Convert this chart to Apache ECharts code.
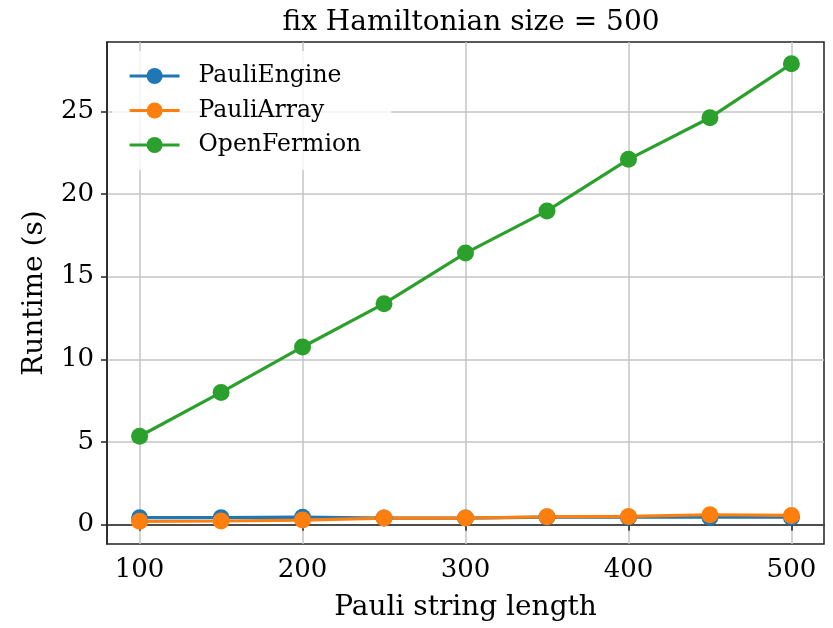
<!DOCTYPE html>
<html>
<head>
<meta charset="utf-8">
<script src="https://cdn.jsdelivr.net/npm/echarts@6/dist/echarts.min.js"></script>
<style>html,body{margin:0;padding:0;background:#fff}#c{width:833px;height:628px}</style>
</head>
<body>
<div id="c"></div>
<script>
const lengths = [100, 150, 200, 250, 300, 350, 400, 450, 500];
const pauliEngine = [0.42, 0.42, 0.45, 0.40, 0.40, 0.46, 0.45, 0.45, 0.45];
const pauliArray = [0.20, 0.22, 0.28, 0.40, 0.40, 0.48, 0.50, 0.60, 0.56];
const openFermion = [5.35, 8.0, 10.75, 13.37, 16.43, 18.98, 22.1, 24.62, 27.88];
const xTicks = [100, 200, 300, 400, 500];
const yTicks = [0, 5, 10, 15, 20, 25];

const font = 'DejaVu Serif';
const colors = ['#1f77b4', '#ff7f0e', '#2ca02c'];
function mk(name, vals, color) {
  return {
    name: name, type: 'line', data: lengths.map((x, i) => [x, vals[i]]),
    symbol: 'circle', symbolSize: 17, showSymbol: true,
    lineStyle: { color: color, width: 3.2 }, itemStyle: { color: color },
    emphasis: { disabled: true }, animation: false
  };
}
const chart = echarts.init(document.getElementById('c'));
chart.setOption({
  animation: false,
  title: { text: 'fix Hamiltonian size = 500', left: 466, textAlign: 'center', top: 4,
    textStyle: { fontFamily: font, fontSize: 28, fontWeight: 'normal', color: '#000' } },
  legend: {
    orient: 'vertical', left: 112, top: 51,
    padding: [12, 30, 12, 16], itemGap: 8.5, itemWidth: 50, itemHeight: 20,
    backgroundColor: 'rgba(255,255,255,0.8)',
    lineStyle: { width: 3.2 },
    textStyle: { fontFamily: font, fontSize: 23.5, color: '#000', lineHeight: 26, padding: [0, 0, 0, 14] },
    data: ['PauliEngine', 'PauliArray', 'OpenFermion']
  },
  grid: { left: 107, right: 9, top: 42, bottom: 84, show: true, borderColor: '#222', borderWidth: 1.5, backgroundColor: 'transparent' },
  xAxis: {
    type: 'value', min: 80, max: 520,
    name: 'Pauli string length', nameLocation: 'middle', nameGap: 50,
    nameTextStyle: { fontFamily: font, fontSize: 28, color: '#000' },
    axisLine: { show: true, lineStyle: { color: '#222', width: 1.5 } },
    axisTick: { show: true, length: 6, lineStyle: { color: '#222', width: 1.5 }, customValues: xTicks },
    axisLabel: { fontFamily: font, fontSize: 26, color: '#000', margin: 13, customValues: xTicks },
    splitLine: { show: true, lineStyle: { color: '#c4c4c4', width: 1.5 } }
  },
  yAxis: {
    type: 'value', min: -1.17, max: 29.2,
    name: 'Runtime (s)', nameLocation: 'middle', nameGap: 58,
    nameTextStyle: { fontFamily: font, fontSize: 28, color: '#000' },
    axisLine: { show: true, lineStyle: { color: '#222', width: 1.5 } },
    axisTick: { show: true, length: 6, lineStyle: { color: '#222', width: 1.5 }, customValues: yTicks },
    axisLabel: { fontFamily: font, fontSize: 26, color: '#000', margin: 13, customValues: yTicks },
    splitLine: { show: true, lineStyle: { color: '#c4c4c4', width: 1.5 } }
  },
  series: [
    mk('PauliEngine', pauliEngine, colors[0]),
    mk('PauliArray', pauliArray, colors[1]),
    mk('OpenFermion', openFermion, colors[2])
  ]
});
</script>
</body>
</html>
